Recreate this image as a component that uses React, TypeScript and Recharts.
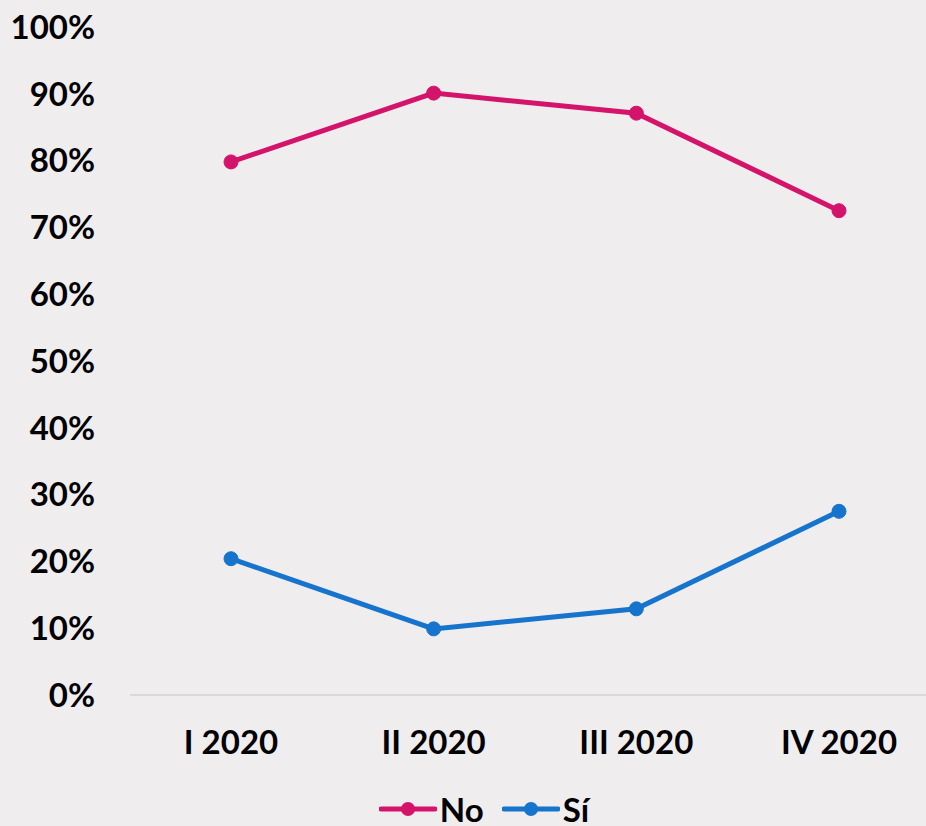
import { CartesianGrid, Legend, Line, LineChart, XAxis, YAxis } from 'recharts';

const quarters = ['I 2020', 'II 2020', 'III 2020', 'IV 2020'];
const noValues = [0.798, 0.901, 0.871, 0.725];
const siValues = [0.204, 0.099, 0.129, 0.275];
const yTicks = [0, 0.1, 0.2, 0.3, 0.4, 0.5, 0.6, 0.7, 0.8, 0.9, 1];

const PINK = '#D3146A';
const BLUE = '#1674CC';
const FONT = 'Lato, "Open Sans", sans-serif';

const data = quarters.map((q, i) => ({ quarter: q, No: noValues[i], Si: siValues[i] }));

const legendItems = [
  { name: 'No', color: PINK },
  { name: 'Sí', color: BLUE },
];

function LegendContent() {
  return (
    <div
      style={{
        display: 'flex',
        justifyContent: 'center',
        alignItems: 'center',
        height: 40,
        paddingLeft: 46,
        paddingTop: 6,
        boxSizing: 'border-box',
        fontFamily: FONT,
        fontWeight: 700,
        fontSize: 33,
        color: '#000',
      }}
    >
      {legendItems.map((item) => (
        <div key={item.name} style={{ display: 'flex', alignItems: 'center', marginRight: 18 }}>
          <svg width={58} height={16} style={{ marginRight: 3 }}>
            <line x1={2} y1={8} x2={56} y2={8} stroke={item.color} strokeWidth={5} strokeLinecap="round" />
            <circle cx={29} cy={8} r={7} fill={item.color} />
          </svg>
          <span>{item.name}</span>
        </div>
      ))}
    </div>
  );
}

export default function App() {
  const tickStyle = { fontFamily: FONT, fontWeight: 700, fontSize: 33, fill: '#000' };
  return (
    <div
      style={{
        position: 'absolute',
        left: 0,
        top: 0,
        width: 926,
        height: 826,
        overflow: 'hidden',
        background: '#EFEDEE',
      }}
    >
      <LineChart width={940} height={826} data={data} margin={{ top: 27, right: 0, bottom: 0, left: 0 }}>
        <CartesianGrid horizontal={false} vertical={false} />
        <XAxis
          dataKey="quarter"
          height={91}
          padding={{ left: 101, right: 101 }}
          tickLine={false}
          tickSize={0}
          tickMargin={36}
          axisLine={{ stroke: '#D9D9D9', strokeWidth: 2 }}
          tick={tickStyle}
          interval={0}
        />
        <YAxis
          width={130}
          domain={[0, 1]}
          ticks={yTicks}
          tickFormatter={(v: number) => `${Math.round(v * 100)}%`}
          axisLine={false}
          tickLine={false}
          tickSize={0}
          tickMargin={35}
          tick={tickStyle}
          interval={0}
        />
        <Legend verticalAlign="bottom" content={<LegendContent />} />
        <Line
          dataKey="No"
          stroke={PINK}
          strokeWidth={5}
          dot={{ r: 7, fill: PINK, stroke: PINK, strokeWidth: 1 }}
          isAnimationActive={false}
        />
        <Line
          dataKey="Si"
          name="Sí"
          stroke={BLUE}
          strokeWidth={5}
          dot={{ r: 7, fill: BLUE, stroke: BLUE, strokeWidth: 1 }}
          isAnimationActive={false}
        />
      </LineChart>
    </div>
  );
}
